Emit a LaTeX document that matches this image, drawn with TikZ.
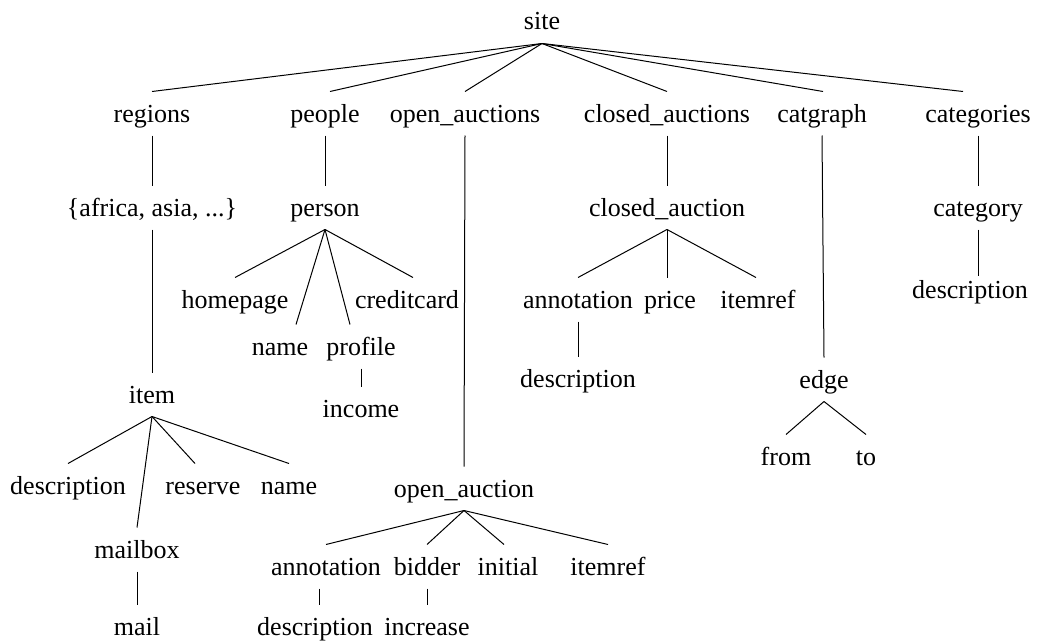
\documentclass[tikz,border=0pt]{standalone}
\usepackage{fontspec}
\setmainfont{Liberation Serif}
\usepackage{tikz}

\begin{document}
\begin{tikzpicture}[x=1pt, y=-1pt, line width=1pt, main/.style = {anchor=base, font=\fontsize{26}{30}\selectfont, inner xsep=2pt, inner ysep=7pt, text height=23pt, text depth=6pt}]
\useasboundingbox (0,0) rectangle (1039,642);
\node[main] (site) at (542,30) {site};
\node[main] (regions) at (152,122) {regions};
\node[main] (people) at (325,122) {people};
\node[main] (oauctions) at (465,122) {open\_auctions};
\node[main] (cauctions) at (667,122) {closed\_auctions};
\node[main] (catgraph) at (822,122) {catgraph};
\node[main] (categories) at (978,122) {categories};
\node[main] (africa) at (152,216) {\{africa, asia, ...\}};
\node[main] (person) at (325,216) {person};
\node[main] (cauction) at (667,216) {closed\_auction};
\node[main] (category) at (978,216) {category};
\node[main] (homepage) at (235,308) {homepage};
\node[main] (creditcard) at (407,308) {creditcard};
\node[main] (canno) at (578,308) {annotation};
\node[main] (price) at (670,308) {price};
\node[main] (citemref) at (758,308) {itemref};
\node[main] (catdesc) at (970,298) {description};
\node[main] (pname) at (280,355) {name};
\node[main] (profile) at (361,355) {profile};
\node[main] (income) at (361,417) {income};
\node[main] (cdesc) at (578,387) {description};
\node[main] (edge) at (824,388) {edge};
\node[main] (from) at (786,465) {from};
\node[main] (to) at (866,465) {to};
\node[main] (item) at (152,403) {item};
\node[main] (idesc) at (68,494) {description};
\node[main] (reserve) at (203,494) {reserve};
\node[main] (iname) at (289,494) {name};
\node[main] (mailbox) at (137,558) {mailbox};
\node[main] (mail) at (137,635) {mail};
\node[main] (oauction) at (464,497) {open\_auction};
\node[main] (oanno) at (326,575) {annotation};
\node[main] (bidder) at (427,575) {bidder};
\node[main] (initial) at (508,575) {initial};
\node[main] (oitemref) at (608,575) {itemref};
\node[main] (odesc) at (315,635) {description};
\node[main] (increase) at (427,635) {increase};
% site
\draw[-] (site.south) -- (regions.north);
\draw[-] (site.south) -- ([xshift=5pt]people.north);
\draw[-] (site.south) -- (oauctions.north);
\draw[-] (site.south) -- (cauctions.north);
\draw[-] (site.south) -- ([xshift=1pt]catgraph.north);
\draw[-] (site.south) -- ([xshift=-15pt]categories.north);
% regions
\draw[-] (regions.south) -- (africa.north);
\draw[-] (africa.south) -- (item.north);
\draw[-] (item.south) -- (idesc.north);
\draw[-] (item.south) -- (mailbox.north);
\draw[-] (item.south) -- ([xshift=-8pt]reserve.north);
\draw[-] (item.south) -- (iname.north);
\draw[-] (mailbox.south) -- (mail.north);
% people
\draw[-] (people.south) -- (person.north);
\draw[-] (person.south) -- (homepage.north);
\draw[-] (person.south) -- ([xshift=16pt]pname.north);
\draw[-] (person.south) -- ([xshift=-11pt]profile.north);
\draw[-] (person.south) -- ([xshift=6pt]creditcard.north);
\draw[-] (profile.south) -- (income.north);
% open auctions
\draw[-] (oauctions.south) -- (oauction.north);
\draw[-] (oauction.south) -- (oanno.north);
\draw[-] (oauction.south) -- (bidder.north);
\draw[-] (oauction.south) -- ([xshift=-4pt]initial.north);
\draw[-] (oauction.south) -- (oitemref.north);
\draw[-] ([xshift=4pt]odesc.north |- oanno.south) -- ([xshift=4pt]odesc.north);
\draw[-] (bidder.south) -- (increase.north);
% closed auctions
\draw[-] (cauctions.south) -- (cauction.north);
\draw[-] (cauction.south) -- (canno.north);
\draw[-] (cauction.south) -- ([xshift=-3pt]price.north);
\draw[-] (cauction.south) -- ([xshift=-2pt]citemref.north);
\draw[-] (canno.south) -- (cdesc.north);
% catgraph
\draw[-] (catgraph.south) -- (edge.north);
\draw[-] (edge.south) -- (from.north);
\draw[-] (edge.south) -- (to.north);
% categories
\draw[-] (categories.south) -- (category.north);
\draw[-, shorten >=-8pt] (category.south) -- (category.south |- catdesc.north);
\end{tikzpicture}
\end{document}
